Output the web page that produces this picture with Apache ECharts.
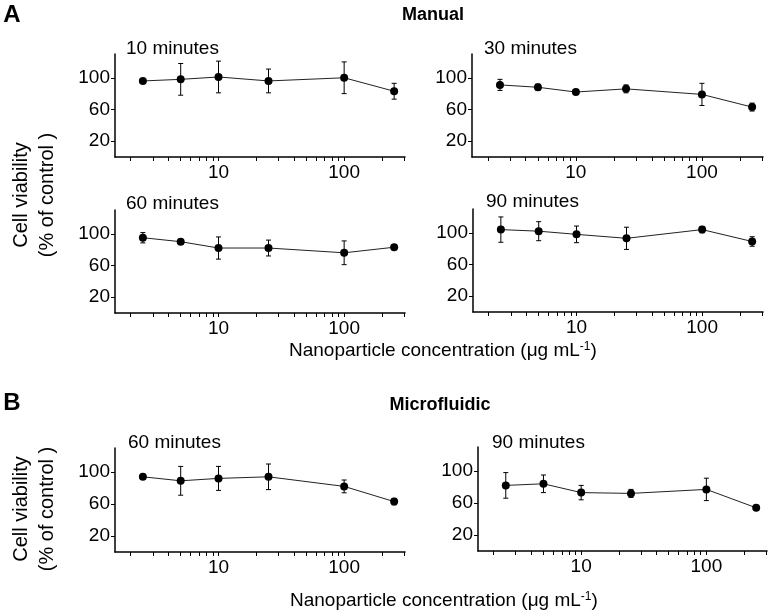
<!DOCTYPE html>
<html><head><meta charset="utf-8">
<script src="https://cdn.jsdelivr.net/npm/echarts@6/dist/echarts.min.js"></script>
<style>html,body{margin:0;padding:0;background:#fff}#c{width:769px;height:614px}</style>
</head><body><div id="c"></div>
<script>
// ---- data ----
const concentrations = [2.5, 5, 10, 25, 100, 250];
const panelTitles = ['10 minutes', '30 minutes', '60 minutes', '90 minutes', '60 minutes', '90 minutes'];
const manual10Mean = [96, 98, 101, 96, 100, 83];
const manual10Err  = [2, 20, 20, 15, 20, 10];
const manual30Mean = [91, 88, 82, 86, 79, 63];
const manual30Err  = [7, 4, 3, 5, 14, 5];
const manual60Mean = [95, 90, 82, 82, 76, 83];
const manual60Err  = [6.5, 3, 14, 10, 15, 2];
const manual90Mean = [104, 102, 98, 93, 104, 89];
const manual90Err  = [16, 12, 10.5, 14, 4, 6];
const micro60Mean  = [94, 89, 92, 94, 82, 63];
const micro60Err   = [3, 18, 15, 16, 8, 4];
const micro90Mean  = [82, 84, 73, 72, 77, 54];
const micro90Err   = [16, 11, 9, 5, 14, 2];
const yTickValues = [20, 60, 100];
const xLabelValues = [10, 100];
const xTickValues = [2, 3, 4, 5, 6, 7, 8, 9, 10, 20, 30, 40, 50, 60, 70, 80, 90, 100, 200, 300];

const means = [manual10Mean, manual30Mean, manual60Mean, manual90Mean, micro60Mean, micro90Mean];
const errs = [manual10Err, manual30Err, manual60Err, manual90Err, micro60Err, micro90Err];

// ---- layout ----
const FONT = "'Liberation Sans', Arial, sans-serif";
const grids = [
  {left: 115, top: 54, width: 290, height: 103},
  {left: 472, top: 54, width: 291, height: 103},
  {left: 115, top: 210, width: 290, height: 103},
  {left: 473, top: 209, width: 290, height: 103},
  {left: 115, top: 448, width: 290, height: 104},
  {left: 478, top: 447, width: 289, height: 104}
];
const titleOffsets = [[11, -4], [12, -4], [11, -5], [13, -6], [13, -4], [14, -3]];

const chart = echarts.init(document.getElementById('c'), null, {renderer: 'canvas'});
const xAxes = [], yAxes = [], series = [], graphics = [];

grids.forEach((g, i) => {
  xAxes.push({
    type: 'log', gridIndex: i, min: 1.5, max: 305, logBase: 10,
    axisLine: {show: true, lineStyle: {color: '#000', width: 1.5}},
    axisTick: {show: true, customValues: xTickValues, length: 4, inside: false, lineStyle: {color: '#000', width: 1}},
    minorTick: {show: false},
    splitLine: {show: false},
    axisLabel: {show: true, customValues: xLabelValues, margin: 6, color: '#000', fontSize: 19, fontFamily: FONT,
      formatter: v => String(Math.round(v))}
  });
  yAxes.push({
    type: 'value', gridIndex: i, min: 0, max: 130,
    axisLine: {show: true, lineStyle: {color: '#000', width: 1.5}},
    axisTick: {show: true, customValues: yTickValues, length: 4, lineStyle: {color: '#000', width: 1}},
    splitLine: {show: false},
    axisLabel: {show: true, customValues: yTickValues, margin: 5, color: '#000', fontSize: 19, fontFamily: FONT}
  });
  const m = means[i], e = errs[i];
  series.push({
    type: 'custom', xAxisIndex: i, yAxisIndex: i, z: 2,
    data: concentrations.map((c, k) => [c, m[k] - e[k], m[k] + e[k]]),
    encode: {x: 0, y: [1, 2]},
    renderItem: function (params, api) {
      const x = api.value(0), lo = api.value(1), hi = api.value(2);
      const p1 = api.coord([x, hi]), p2 = api.coord([x, lo]);
      const w = 2.5;
      const st = {stroke: '#000', lineWidth: 1};
      return {type: 'group', children: [
        {type: 'line', shape: {x1: p1[0], y1: p1[1], x2: p2[0], y2: p2[1]}, style: st},
        {type: 'line', shape: {x1: p1[0] - w, y1: p1[1], x2: p1[0] + w, y2: p1[1]}, style: st},
        {type: 'line', shape: {x1: p2[0] - w, y1: p2[1], x2: p2[0] + w, y2: p2[1]}, style: st}
      ]};
    }
  });
  series.push({
    type: 'line', xAxisIndex: i, yAxisIndex: i, z: 3,
    data: concentrations.map((c, k) => [c, m[k]]),
    symbol: 'circle', symbolSize: 8,
    itemStyle: {color: '#000'},
    lineStyle: {color: '#222', width: 1}
  });
  graphics.push({
    type: 'text', left: g.left + titleOffsets[i][0], top: g.top + titleOffsets[i][1] - 11,
    style: {text: panelTitles[i], fontSize: 19, fontFamily: FONT, fill: '#000'}
  });
});

function textEl(x, y, text, opts) {
  return Object.assign({type: 'text', x: x, y: y,
    style: Object.assign({text: text, fontFamily: FONT, fill: '#000', align: 'center', verticalAlign: 'middle'}, opts || {})});
}

graphics.push(textEl(12, 15, 'A', {fontSize: 24, fontWeight: 'bold'}));
graphics.push(textEl(12, 403, 'B', {fontSize: 24, fontWeight: 'bold'}));
graphics.push(textEl(433, 15, 'Manual', {fontSize: 18, fontWeight: 'bold'}));
graphics.push(textEl(440, 405, 'Microfluidic', {fontSize: 18, fontWeight: 'bold'}));

[[195], [509]].forEach(([cy]) => {
  graphics.push(Object.assign(textEl(21, cy, 'Cell viability', {fontSize: 20}), {rotation: Math.PI / 2}));
  graphics.push(Object.assign(textEl(47, cy, '(% of control )', {fontSize: 20}), {rotation: Math.PI / 2}));
});

const xTitleRich = {
  text: '{m|Nanoparticle concentration (μg mL}{s|-1}{m|)}',
  rich: {
    m: {fontSize: 19, fontFamily: FONT, fill: '#000', color: '#000'},
    s: {fontSize: 12, fontFamily: FONT, fill: '#000', color: '#000', verticalAlign: 'top', padding: [0, 0, 8, 0]}
  },
  fill: '#000', align: 'left', verticalAlign: 'middle'
};
graphics.push({type: 'text', x: 289, y: 351, style: xTitleRich});
graphics.push({type: 'text', x: 290, y: 601, style: JSON.parse(JSON.stringify(xTitleRich))});

chart.setOption({
  animation: false,
  backgroundColor: '#fff',
  grid: grids.map(g => Object.assign({containLabel: false}, g)),
  xAxis: xAxes,
  yAxis: yAxes,
  series: series,
  graphic: graphics
});
</script>
</body></html>
